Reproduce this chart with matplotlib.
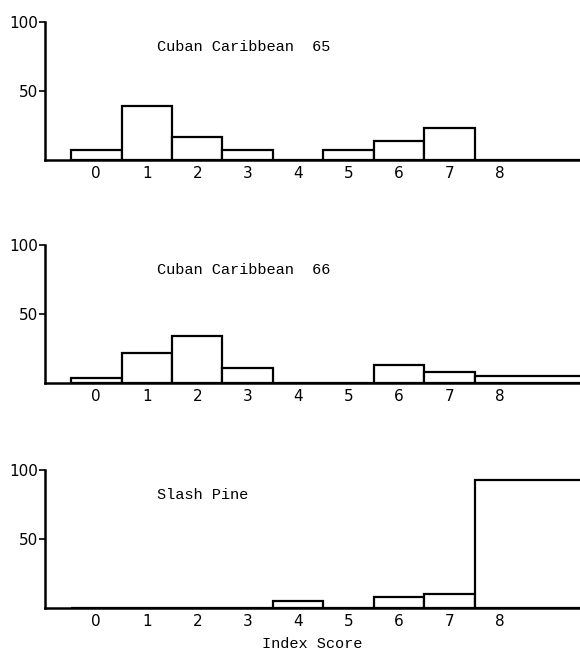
import matplotlib
matplotlib.use('Agg')
import matplotlib.pyplot as plt

# index score bins
scores = [0, 1, 2, 3, 4, 5, 6, 7, 8]

# percent of trees per index score
cuban_65 = [7, 39, 17, 7, 0, 7, 14, 23, 0]
cuban_66 = [3.5, 22, 34, 11, 0, 0, 13, 8, 5]
slash_pine = [0, 0, 0, 0, 5, 0, 8, 10, 93]

titles = ['Cuban Caribbean  65', 'Cuban Caribbean  66', 'Slash Pine']
series = [cuban_65, cuban_66, slash_pine]

mono = 'Liberation Mono'


def draw_panel(ax, values, title, last=False):
    # last bin runs off the right edge of the page in the original
    widths = [1] * (len(scores) - 1) + [3]
    lefts = [s - 0.5 for s in scores]
    ax.bar(lefts, values, width=widths, align='edge', color='white',
           edgecolor='black', linewidth=1.6, zorder=2)
    ax.set_xlim(-1.015, 9.58)
    ax.set_ylim(0, 100)
    ax.spines['top'].set_visible(False)
    ax.spines['right'].set_visible(False)
    ax.spines['left'].set_linewidth(1.8)
    ax.spines['bottom'].set_linewidth(1.8)
    ax.set_xticks(scores)
    ax.set_xticklabels([str(s) for s in scores], fontsize=11)
    ax.tick_params(axis='x', length=0, pad=4)
    ax.set_yticks([50, 100])
    ax.set_yticklabels(['50', '100'], fontsize=11)
    ax.tick_params(axis='y', length=4, width=1.2, pad=1)
    ax.text(1.2, 82, title, fontsize=11, family=mono, va='center', ha='left')
    if last:
        ax.set_xlabel('Index Score', fontsize=11, family=mono, labelpad=6)


def main():
    fig = plt.figure(figsize=(5.8, 6.51), dpi=100)
    bottoms = [0.7542, 0.4117, 0.066]
    for i in range(3):
        ax = fig.add_axes([0.0776, bottoms[i], 0.9224, 0.212])
        draw_panel(ax, series[i], titles[i], last=(i == 2))
    fig.savefig('out.png', dpi=100)


if __name__ == '__main__':
    main()
